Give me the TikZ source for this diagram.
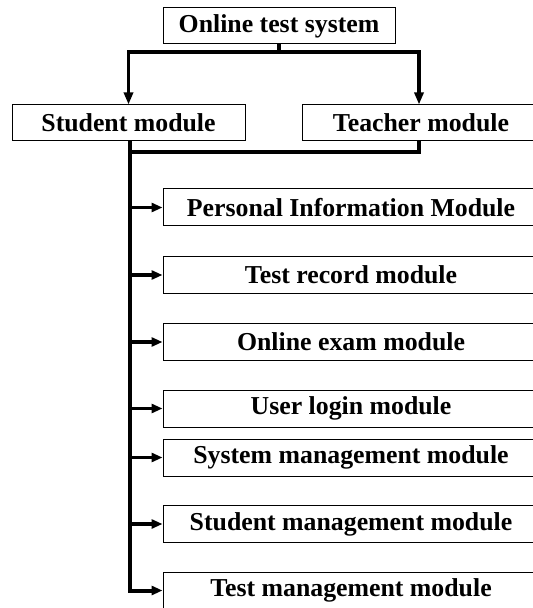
\documentclass[tikz,border=0pt]{standalone}
\usepackage{fontspec}
\setmainfont{Liberation Serif}
\usepackage{tikz}
\usetikzlibrary{arrows.meta, positioning, calc}

\begin{document}
\begin{tikzpicture}[
		x=0.5pt, y=-0.5pt,
		box/.style={draw, line width=0.5pt, minimum height=18pt, inner sep=0pt, font=\fontsize{12.9}{15}\selectfont\bfseries},
		modbox/.style={box, minimum width=188pt, minimum height=18.5pt},
		conn/.style={line width=1.6pt},
		trunk/.style={line width=2pt},
		>={Triangle[length=6pt, width=4.5pt]}
	]
		\useasboundingbox (0,0) rectangle (533,608);
		\clip (0,0) rectangle (533,608);

		% Top level
		\node[box, minimum width=116pt] (sys) at (279, 26) {Online test system};
		\node[box, minimum width=116.5pt] (stu) at (128.5, 123) {Student module};
		\node[box, minimum width=118.5pt] (tea) at (421, 123) {Teacher module};
		\coordinate (split) at (279, 52);
		\draw[conn] (sys) -- (split);
		\draw[conn, ->] (split) -| (stu);
		\draw[conn, ->] (split) -| ([xshift=-1pt]tea.north);

		% Function modules
		\node[modbox] (m1) at (351, 207.5) {Personal Information Module};
		\node[modbox] (m2) at (351, 275) {Test record module};
		\node[modbox] (m3) at (351, 342) {Online exam module};
		\node[modbox] (m4) at (351, 408.5) {User login module};
		\node[modbox] (m5) at (351, 457.5) {System management module};
		\node[modbox] (m6) at (351, 524) {Student management module};
		\node[modbox] (m7) at (351, 590.5) {Test management module};

		% Bus and branches
		\coordinate (bus) at (130, 152);
		\draw[conn] ([xshift=-1pt]tea.south) |- (bus);
		\draw[trunk, -{Triangle[length=5.5pt, width=4.5pt]}] (stu.south -| bus) |- (m7.west);
		\foreach \m in {m1, m2, m3, m4, m5, m6}
			\draw[conn, -{Triangle[length=5.5pt, width=4.5pt]}] (bus |- \m.west) -- (\m.west);
	\end{tikzpicture}
\end{document}
